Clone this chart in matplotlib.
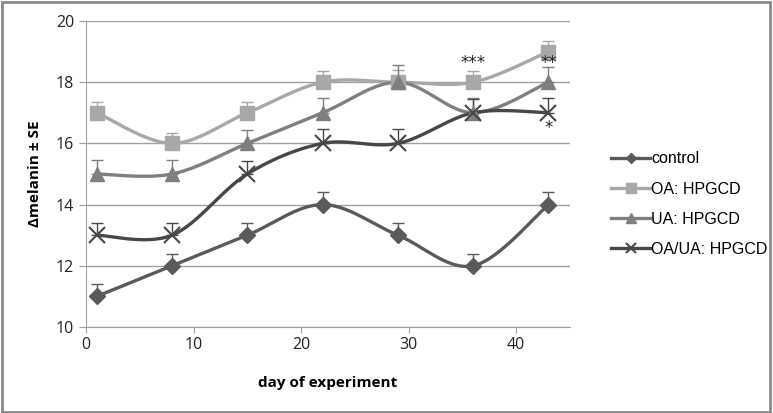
import numpy as np
import matplotlib
matplotlib.use("Agg")
import matplotlib.pyplot as plt
from matplotlib.patches import Rectangle

days = [1, 8, 15, 22, 29, 36, 43]
control = [11, 12, 13, 14, 13, 12, 14]
oa = [17, 16, 17, 18, 18, 18, 19]
ua = [15, 15, 16, 17, 18, 17, 18]
oaua = [13, 13, 15, 16, 16, 17, 17]
err_control = [0.4, 0.4, 0.4, 0.4, 0.4, 0.4, 0.4]
err_oa = [0.35, 0.35, 0.35, 0.35, 0.4, 0.35, 0.35]
err_ua = [0.45, 0.45, 0.45, 0.47, 0.55, 0.47, 0.5]
err_oaua = [0.4, 0.4, 0.43, 0.46, 0.46, 0.46, 0.47]
labels = ["control", "OA: HPGCD", "UA: HPGCD", "OA/UA: HPGCD"]
annotations = [("***", 36, 18.62), ("**", 43, 18.62), ("*", 43, 16.5)]


def smooth(x, y, n=40):
    x = np.asarray(x, float)
    y = np.asarray(y, float)
    P = np.column_stack([x, y])
    xs, ys = [], []
    for i in range(len(P) - 1):
        p0 = P[i - 1] if i > 0 else P[i]
        p1 = P[i]
        p2 = P[i + 1]
        p3 = P[i + 2] if i + 2 < len(P) else P[i + 1]
        c1 = p1 + (p2 - p0) / 6.0
        c2 = p2 - (p3 - p1) / 6.0
        t = np.linspace(0, 1, n)[:, None]
        b = (1 - t) ** 3 * p1 + 3 * (1 - t) ** 2 * t * c1 + 3 * (1 - t) * t ** 2 * c2 + t ** 3 * p2
        xs.append(b[:, 0])
        ys.append(b[:, 1])
    return np.concatenate(xs), np.concatenate(ys)


fig = plt.figure(figsize=(7.73, 4.13), dpi=100)
ax = fig.add_axes([86 / 773, 1 - 327 / 413, (570 - 86) / 773, (327 - 21) / 413])

series = [
    (control, err_control, "#5a5a5a", "D", 8),
    (oa, err_oa, "#a8a8a8", "s", 10),
    (ua, err_ua, "#7f7f7f", "^", 10),
    (oaua, err_oaua, "#474747", "x", 11),
]

handles = []
for (vals, err, col, mk, ms), lab in zip(series, labels):
    sx, sy = smooth(days, vals)
    ax.plot(sx, sy, color=col, lw=2.4, zorder=3, solid_capstyle="round")
    ax.errorbar(days, vals, yerr=[np.zeros(len(err)), err], fmt="none",
                ecolor=col, elinewidth=1.0, capsize=4, capthick=1.0, zorder=2)
    kw = dict(mew=1.5) if mk == "x" else dict(mec=col)
    ax.plot(days, vals, linestyle="none", marker=mk, color=col, ms=ms, zorder=4, **kw)
    h, = ax.plot([], [], color=col, lw=2.4, marker=mk, ms=ms * 0.7, **kw)
    handles.append(h)

for txt, x, y in annotations:
    ax.text(x, y, txt, ha="center", va="center", fontsize=12, color="#222222", zorder=10)

ax.set_xlim(0, 45)
ax.set_ylim(10, 20)
ax.set_xticks([0, 10, 20, 30, 40])
ax.set_yticks([10, 12, 14, 16, 18, 20])
ax.yaxis.grid(True, color="#a0a0a0", lw=1)
ax.set_axisbelow(True)
for s in ["top", "right"]:
    ax.spines[s].set_visible(False)
for s in ["left", "bottom"]:
    ax.spines[s].set_color("#a0a0a0")
ax.tick_params(axis="both", colors="#a0a0a0", labelcolor="#222222", labelsize=11.5, length=4)
ax.tick_params(axis="y", length=5)
for lbl in ax.get_xticklabels() + ax.get_yticklabels():
    lbl.set_family("Open Sans")

ax.set_xlabel("day of experiment", fontsize=11, fontweight="bold", family="Open Sans", labelpad=16)
ax.set_ylabel("Δmelanin ± SE", fontsize=11, fontweight="bold", family="Open Sans", labelpad=10)

leg = fig.legend(handles, labels, loc="upper left", bbox_to_anchor=(597 / 773, 1 - 137 / 413),
                 frameon=False, prop={"family": "Liberation Sans", "size": 11.5},
                 handlelength=2.4, handletextpad=0.1, labelspacing=0.95)

fig.patches.append(Rectangle((0.002, 0.003), 0.994, 0.992, transform=fig.transFigure,
                             fill=False, edgecolor="#8a8a8a", lw=2))

fig.savefig("out.png", dpi=100)
